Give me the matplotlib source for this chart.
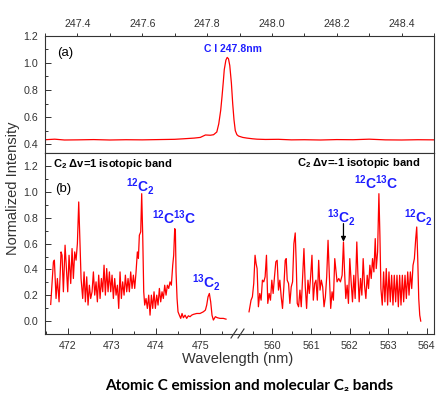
import numpy as np
import matplotlib
matplotlib.use("Agg")
import matplotlib.pyplot as plt
from matplotlib.ticker import MultipleLocator

plt.rcParams['font.family'] = ['Liberation Sans', 'DejaVu Sans']
plt.rcParams['mathtext.fontset'] = 'custom'
plt.rcParams['mathtext.rm'] = 'Liberation Sans'
plt.rcParams['mathtext.bf'] = 'Liberation Sans:bold'

# (a) atomic C I line
wl_atomic = [247.30, 247.33, 247.36, 247.40, 247.45, 247.50, 247.55, 247.60, 247.65, 247.70,
             247.728, 247.76, 247.779, 247.795, 247.81, 247.820, 247.830, 247.836, 247.842, 247.846,
             247.850, 247.853, 247.858, 247.862, 247.866, 247.870, 247.875, 247.879, 247.883, 247.887,
             247.892, 247.897, 247.910, 247.923, 247.94, 247.954, 247.98, 248.02, 248.06, 248.10,
             248.15, 248.20, 248.25, 248.30, 248.35, 248.40, 248.45, 248.50]
int_atomic = [0.433, 0.437, 0.431, 0.432, 0.434, 0.431, 0.433, 0.432, 0.434, 0.436,
              0.440, 0.445, 0.450, 0.468, 0.466, 0.470, 0.490, 0.550, 0.650, 0.750,
              0.860, 0.950, 1.020, 1.040, 1.030, 0.980, 0.850, 0.700, 0.580, 0.500,
              0.470, 0.460, 0.450, 0.445, 0.440, 0.437, 0.435, 0.436, 0.432, 0.433,
              0.431, 0.434, 0.433, 0.437, 0.432, 0.431, 0.433, 0.432]

# (b) C2 dv=1 band
wl_band1 = [471.615, 471.676, 471.698, 471.736, 471.766, 471.804, 471.849, 471.872, 471.902, 471.940,
            471.962, 472.000, 472.030, 472.068, 472.098, 472.128, 472.158, 472.189, 472.219, 472.249,
            472.279, 472.302, 472.339, 472.370, 472.400, 472.430, 472.460, 472.490, 472.520, 472.551,
            472.581, 472.611, 472.641, 472.671, 472.701, 472.732, 472.762, 472.792, 472.822, 472.852,
            472.882, 472.913, 472.943, 472.973, 473.003, 473.033, 473.063, 473.094, 473.124, 473.154,
            473.184, 473.214, 473.244, 473.275, 473.305, 473.335, 473.365, 473.395, 473.425, 473.456,
            473.486, 473.516, 473.546, 473.576, 473.599, 473.621, 473.652, 473.674, 473.697, 473.720,
            473.742, 473.772, 473.802, 473.833, 473.863, 473.893, 473.923, 473.953, 473.983, 474.014,
            474.044, 474.074, 474.104, 474.134, 474.164, 474.195, 474.225, 474.255, 474.285, 474.315,
            474.345, 474.376, 474.398, 474.421, 474.436, 474.451, 474.474, 474.496, 474.526, 474.557,
            474.587, 474.617, 474.655, 474.692, 474.730, 474.768, 474.805, 474.843, 474.919, 474.994,
            475.069, 475.115, 475.145, 475.175, 475.205, 475.235, 475.265, 475.296, 475.341, 475.386,
            475.446, 475.522, 475.582]
int_band1 = [0.129, 0.459, 0.472, 0.175, 0.330, 0.149, 0.536, 0.510, 0.227, 0.588,
             0.459, 0.227, 0.510, 0.291, 0.562, 0.330, 0.536, 0.472, 0.601, 0.923,
             0.588, 0.330, 0.175, 0.381, 0.149, 0.343, 0.124, 0.278, 0.175, 0.227,
             0.381, 0.201, 0.304, 0.149, 0.356, 0.175, 0.330, 0.227, 0.433, 0.201,
             0.407, 0.227, 0.381, 0.227, 0.356, 0.175, 0.330, 0.201, 0.278, 0.098,
             0.381, 0.175, 0.304, 0.201, 0.356, 0.227, 0.330, 0.227, 0.381, 0.253,
             0.356, 0.253, 0.381, 0.536, 0.485, 0.665, 0.691, 0.987, 0.665, 0.227,
             0.124, 0.175, 0.098, 0.201, 0.046, 0.201, 0.098, 0.227, 0.098, 0.201,
             0.124, 0.253, 0.149, 0.227, 0.175, 0.278, 0.201, 0.278, 0.253, 0.304,
             0.278, 0.433, 0.510, 0.716, 0.704, 0.381, 0.175, 0.072, 0.046, 0.021,
             0.059, 0.026, 0.046, 0.021, 0.041, 0.034, 0.046, 0.052, 0.059, 0.059,
             0.072, 0.085, 0.124, 0.188, 0.214, 0.149, 0.046, 0.008, 0.034, 0.026,
             0.021, 0.021, 0.015]

# (b) C2 dv=-1 band
wl_band2 = [559.393, 559.445, 559.480, 559.515, 559.549, 559.576, 559.602, 559.636, 559.671, 559.706,
            559.740, 559.775, 559.810, 559.845, 559.879, 559.914, 559.949, 559.984, 560.018, 560.053,
            560.088, 560.122, 560.157, 560.192, 560.227, 560.261, 560.296, 560.331, 560.357, 560.383,
            560.418, 560.452, 560.487, 560.522, 560.556, 560.591, 560.617, 560.643, 560.678, 560.713,
            560.747, 560.782, 560.817, 560.852, 560.886, 560.921, 560.956, 560.990, 561.025, 561.060,
            561.095, 561.129, 561.164, 561.199, 561.234, 561.268, 561.303, 561.338, 561.373, 561.407,
            561.442, 561.477, 561.511, 561.546, 561.581, 561.616,
            561.676, 561.720, 561.763, 561.807, 561.842, 561.867, 561.902, 561.937, 561.971, 562.006,
            562.041, 562.076, 562.110, 562.145, 562.188, 562.214, 562.249, 562.284, 562.319, 562.353,
            562.388, 562.423, 562.458, 562.492, 562.527, 562.562, 562.596, 562.631, 562.666, 562.692,
            562.727, 562.761, 562.787, 562.813, 562.848, 562.883, 562.917, 562.952, 562.987, 563.022,
            563.056, 563.091, 563.126, 563.160, 563.195, 563.230, 563.265, 563.299, 563.334, 563.369,
            563.403, 563.438, 563.473, 563.508, 563.542, 563.577, 563.612, 563.646, 563.681, 563.716,
            563.742, 563.768, 563.794, 563.820, 563.846]
int_band2 = [0.072, 0.162, 0.188, 0.291, 0.510, 0.446, 0.407, 0.111, 0.214, 0.162,
             0.317, 0.304, 0.343, 0.510, 0.137, 0.214, 0.162, 0.317, 0.214, 0.343,
             0.459, 0.471, 0.240, 0.317, 0.188, 0.098, 0.265, 0.471, 0.484, 0.317,
             0.291, 0.137, 0.265, 0.304, 0.600, 0.683, 0.446, 0.137, 0.111, 0.240,
             0.111, 0.343, 0.562, 0.265, 0.098, 0.317, 0.214, 0.343, 0.510, 0.162,
             0.291, 0.317, 0.162, 0.471, 0.240, 0.317, 0.265, 0.111, 0.188, 0.343,
             0.626, 0.343, 0.098, 0.227, 0.162, 0.484,
             0.304, 0.330, 0.304, 0.355, 0.613, 0.407, 0.175, 0.278, 0.137, 0.484,
             0.304, 0.149, 0.355, 0.175, 0.613, 0.381, 0.149, 0.330, 0.201, 0.484,
             0.278, 0.175, 0.355, 0.252, 0.433, 0.330, 0.484, 0.381, 0.639, 0.407,
             0.536, 0.987, 0.665, 0.252, 0.124, 0.381, 0.149, 0.407, 0.124, 0.381,
             0.149, 0.355, 0.124, 0.355, 0.149, 0.355, 0.111, 0.355, 0.124, 0.355,
             0.149, 0.355, 0.175, 0.381, 0.201, 0.381, 0.252, 0.433, 0.484, 0.639,
             0.729, 0.484, 0.175, 0.046, 0.000]

ticks_top = [247.4, 247.6, 247.8, 248.0, 248.2, 248.4]
ticks_left = [472, 473, 474, 475]
ticks_right = [560, 561, 562, 563, 564]

axcol = '#333333'
blue = '#1f1fff'

fig = plt.figure(figsize=(4.46, 3.97), dpi=100)
ax_a = fig.add_axes([0.1009, 0.6139, 0.8722, 0.2961])
ax_l = fig.add_axes([0.1009, 0.1587, 0.4350, 0.4552])
ax_r = fig.add_axes([0.5359, 0.1587, 0.4372, 0.4552])

for ax in (ax_a, ax_l, ax_r):
    for s in ax.spines.values():
        s.set_color(axcol)
        s.set_linewidth(0.8)
    ax.tick_params(which='both', colors=axcol, labelcolor=axcol, labelsize=7.7, width=0.7)

# top panel
ax_a.plot(wl_atomic, int_atomic, color='red', lw=0.9)
ax_a.set_xlim(247.3, 248.5)
ax_a.set_ylim(0.333, 1.2)
ax_a.set_xticks(ticks_top)
ax_a.xaxis.set_minor_locator(MultipleLocator(0.1))
ax_a.yaxis.set_minor_locator(MultipleLocator(0.1))
ax_a.set_yticks([0.4, 0.6, 0.8, 1.0, 1.2])
ax_a.set_yticklabels(['0.4', '0.6', '0.8', '1.0', '1.2'])
ax_a.tick_params(axis='x', which='both', direction='out', top=True, bottom=False,
                 labeltop=True, labelbottom=False, length=2.5, pad=2.5)
ax_a.tick_params(axis='y', which='major', direction='in', length=4, pad=5)
ax_a.tick_params(axis='y', which='minor', direction='in', length=2)
ax_a.text(0.031, 0.857, '(a)', transform=ax_a.transAxes, fontsize=9.5, va='center', ha='left')
ax_a.text(247.881, 1.102, 'C I 247.8nm', color=blue, fontsize=7.5, fontweight='bold',
          ha='center', va='center')

# bottom panels
ax_l.plot(wl_band1, int_band1, color='red', lw=0.9)
ax_r.plot(wl_band2, int_band2, color='red', lw=0.9)
ax_l.set_xlim(471.486, 475.876)
ax_r.set_xlim(559.133, 564.19)
for ax in (ax_l, ax_r):
    ax.set_ylim(-0.1, 1.3)
    ax.xaxis.set_minor_locator(MultipleLocator(0.5))
    ax.tick_params(axis='x', which='major', direction='in', length=4, pad=5)
    ax.tick_params(axis='x', which='minor', direction='in', length=2)
ax_l.set_xticks(ticks_left)
ax_r.set_xticks(ticks_right)
ax_l.set_yticks([0.0, 0.2, 0.4, 0.6, 0.8, 1.0, 1.2])
ax_l.set_yticklabels(['0.0', '0.2', '0.4', '0.6', '0.8', '1.0', '1.2'])
ax_l.yaxis.set_minor_locator(MultipleLocator(0.1))
ax_l.tick_params(axis='y', which='major', direction='in', length=4, pad=5)
ax_l.tick_params(axis='y', which='minor', direction='in', length=2)
ax_l.spines['right'].set_visible(False)
ax_r.spines['left'].set_visible(False)
ax_r.tick_params(axis='y', which='both', left=False, right=False, labelleft=False)

ax_l.text(0.052, 0.802, '(b)', transform=ax_l.transAxes, fontsize=9.5, va='center', ha='left')
ax_l.text(0.040, 0.938, 'C$_\\mathbf{2}$ Δv=1 isotopic band', transform=ax_l.transAxes,
          fontsize=8, fontweight='bold', va='center', ha='left')
ax_r.text(0.928, 0.946, 'C$_\\mathbf{2}$ Δv=-1 isotopic band', transform=ax_r.transAxes,
          fontsize=8, fontweight='bold', va='center', ha='right')

lab_kw = dict(color=blue, fontsize=10, ha='center', va='center')
ax_l.text(473.647, 1.043, r'$\mathbf{^{12}C_{2}}$', **lab_kw)
ax_l.text(474.405, 0.800, r'$\mathbf{^{12}C^{13}C}$', **lab_kw)
ax_l.text(475.140, 0.298, r'$\mathbf{^{13}C_{2}}$', **lab_kw)
ax_r.text(561.776, 0.804, r'$\mathbf{^{13}C_{2}}$', **lab_kw)
ax_r.text(562.688, 1.070, r'$\mathbf{^{12}C^{13}C}$', **lab_kw)
ax_r.text(563.780, 0.800, r'$\mathbf{^{12}C_{2}}$', **lab_kw)
ax_r.annotate('', xy=(561.842, 0.615), xytext=(561.842, 0.755),
              arrowprops=dict(arrowstyle='-|>', color='black', lw=0.9,
                              mutation_scale=7, shrinkA=0, shrinkB=0))

# axis break marks
for x0 in (231, 238):
    fig.add_artist(plt.Line2D([x0 / 446, (x0 + 6) / 446], [1 - 338 / 397, 1 - 329 / 397],
                              color=axcol, lw=0.8))

fig.text(238 / 446, 1 - 359 / 397, 'Wavelength (nm)', fontsize=10.5, color=axcol,
         ha='center', va='center')
fig.text(13 / 446, 1 - 188 / 397, 'Normalized Intensity', fontsize=10.5, color=axcol,
         rotation=90, ha='center', va='center')
fig.text(249 / 446, 1 - 385.7 / 397, 'Atomic C emission and molecular C₂ bands',
         fontsize=11, fontweight='bold', family=['Lato', 'DejaVu Sans'],
         ha='center', va='center')

fig.savefig('out.png', dpi=100)
